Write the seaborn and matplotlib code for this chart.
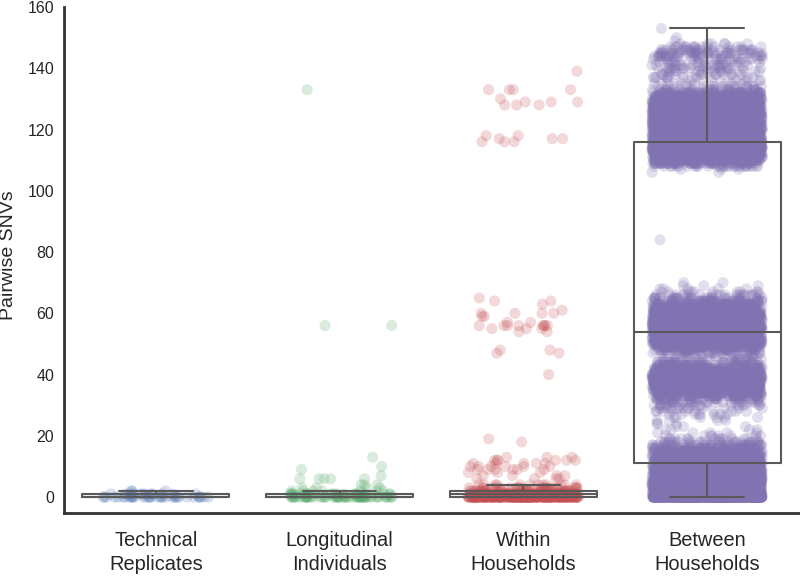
import numpy as np
import pandas as pd
import matplotlib
matplotlib.use("Agg")
import matplotlib.pyplot as plt
import seaborn as sns

categories = ["Technical\nReplicates", "Longitudinal\nIndividuals", "Within\nHouseholds", "Between\nHouseholds"]
colors = ["#4C72B0", "#55A868", "#C44E52", "#8172B2"]

# SNV value and how many pairs sit at it
tech_values = [0, 1, 2]
tech_counts = [34, 12, 3]

long_values = [0, 1, 2, 3, 4, 6, 7, 9, 10, 13, 56, 133]
long_counts = [62, 22, 7, 4, 3, 5, 1, 1, 1, 1, 2, 1]

within_values = [0, 1, 2, 3, 4, 6, 7, 8, 9, 10, 11, 12, 13, 18, 19,
                 40, 47, 48, 54, 55, 56, 57, 59, 60, 61, 63, 64, 65,
                 116, 117, 118, 128, 129, 130, 133, 139]
within_counts = [250, 85, 45, 22, 12, 4, 4, 3, 6, 6, 5, 6, 3, 1, 1,
                 1, 2, 2, 2, 3, 8, 2, 2, 4, 1, 1, 2, 1,
                 3, 3, 2, 3, 3, 1, 4, 1]

between_values = list(range(0, 69)) + [69, 70, 84] + list(range(106, 149)) + [149, 150, 153]
between_counts = [600, 400, 300, 250, 230, 220, 200, 190, 180, 170, 160, 150,
                  140, 120, 100, 80, 60, 40,
                  25, 14, 8, 5, 4, 3, 3, 4, 6, 8, 10, 14, 18, 25, 35,
                  60, 90, 120, 150, 180, 160, 170, 150, 120, 90, 60, 35, 20,
                  15, 25, 50, 90, 130, 170, 170, 170, 170,
                  170, 170, 170, 160, 150, 130, 110, 90, 70, 50, 30, 20, 10, 5,
                  3, 2, 1,
                  2, 3, 30, 70, 120, 170, 220, 260, 300, 320,
                  220, 210, 200, 190, 190, 180, 180, 170, 170, 170, 160, 160, 150, 140, 130, 100, 60,
                  30, 16, 10, 10, 12, 14, 16, 18, 20, 14, 20, 28, 32, 26, 16, 6,
                  1, 1, 1]

yticks = [0, 20, 40, 60, 80, 100, 120, 140, 160]

series = [(tech_values, tech_counts), (long_values, long_counts),
          (within_values, within_counts), (between_values, between_counts)]
frames = [pd.DataFrame({"group": c, "snvs": np.repeat(v, n)})
          for c, (v, n) in zip(categories, series)]
df = pd.concat(frames, ignore_index=True)

sns.set_theme(style="white")
plt.rcParams["font.family"] = ["Liberation Sans", "DejaVu Sans"]
np.random.seed(3)

fig = plt.figure(figsize=(8, 5.76), dpi=100)
ax = fig.add_axes([64 / 800, 1 - 513 / 576, (799 - 64) / 800, (513 - 7) / 576])

sns.stripplot(data=df, x="group", y="snvs", hue="group", order=categories,
              hue_order=categories, palette=colors, jitter=0.3, size=8,
              alpha=0.22, linewidth=0, legend=False, ax=ax, zorder=1)
sns.boxplot(data=df, x="group", y="snvs", order=categories, fill=False,
            color="#595959", linewidth=1.5, width=0.8, showfliers=False,
            whis=1.5, ax=ax, zorder=5)

ax.set_xlim(-0.5, 3.5)
ax.set_ylim(-5.2, 160)
ax.set_yticks(yticks)
ax.set_xlabel("")
ax.set_ylabel("Pairwise SNVs", fontsize=14, color="#262626")
ax.yaxis.set_label_coords(-0.064, 0.51)
ax.tick_params(axis="x", labelsize=14.4, length=0, pad=13, colors="#262626")
ax.tick_params(axis="y", labelsize=11.5, length=0, pad=7, colors="#262626")
for label in ax.get_xticklabels():
    label.set_linespacing(1.35)
sns.despine(ax=ax)
for s in ("left", "bottom"):
    ax.spines[s].set_linewidth(2)
    ax.spines[s].set_color("#333333")

fig.savefig("out.png", dpi=100)
